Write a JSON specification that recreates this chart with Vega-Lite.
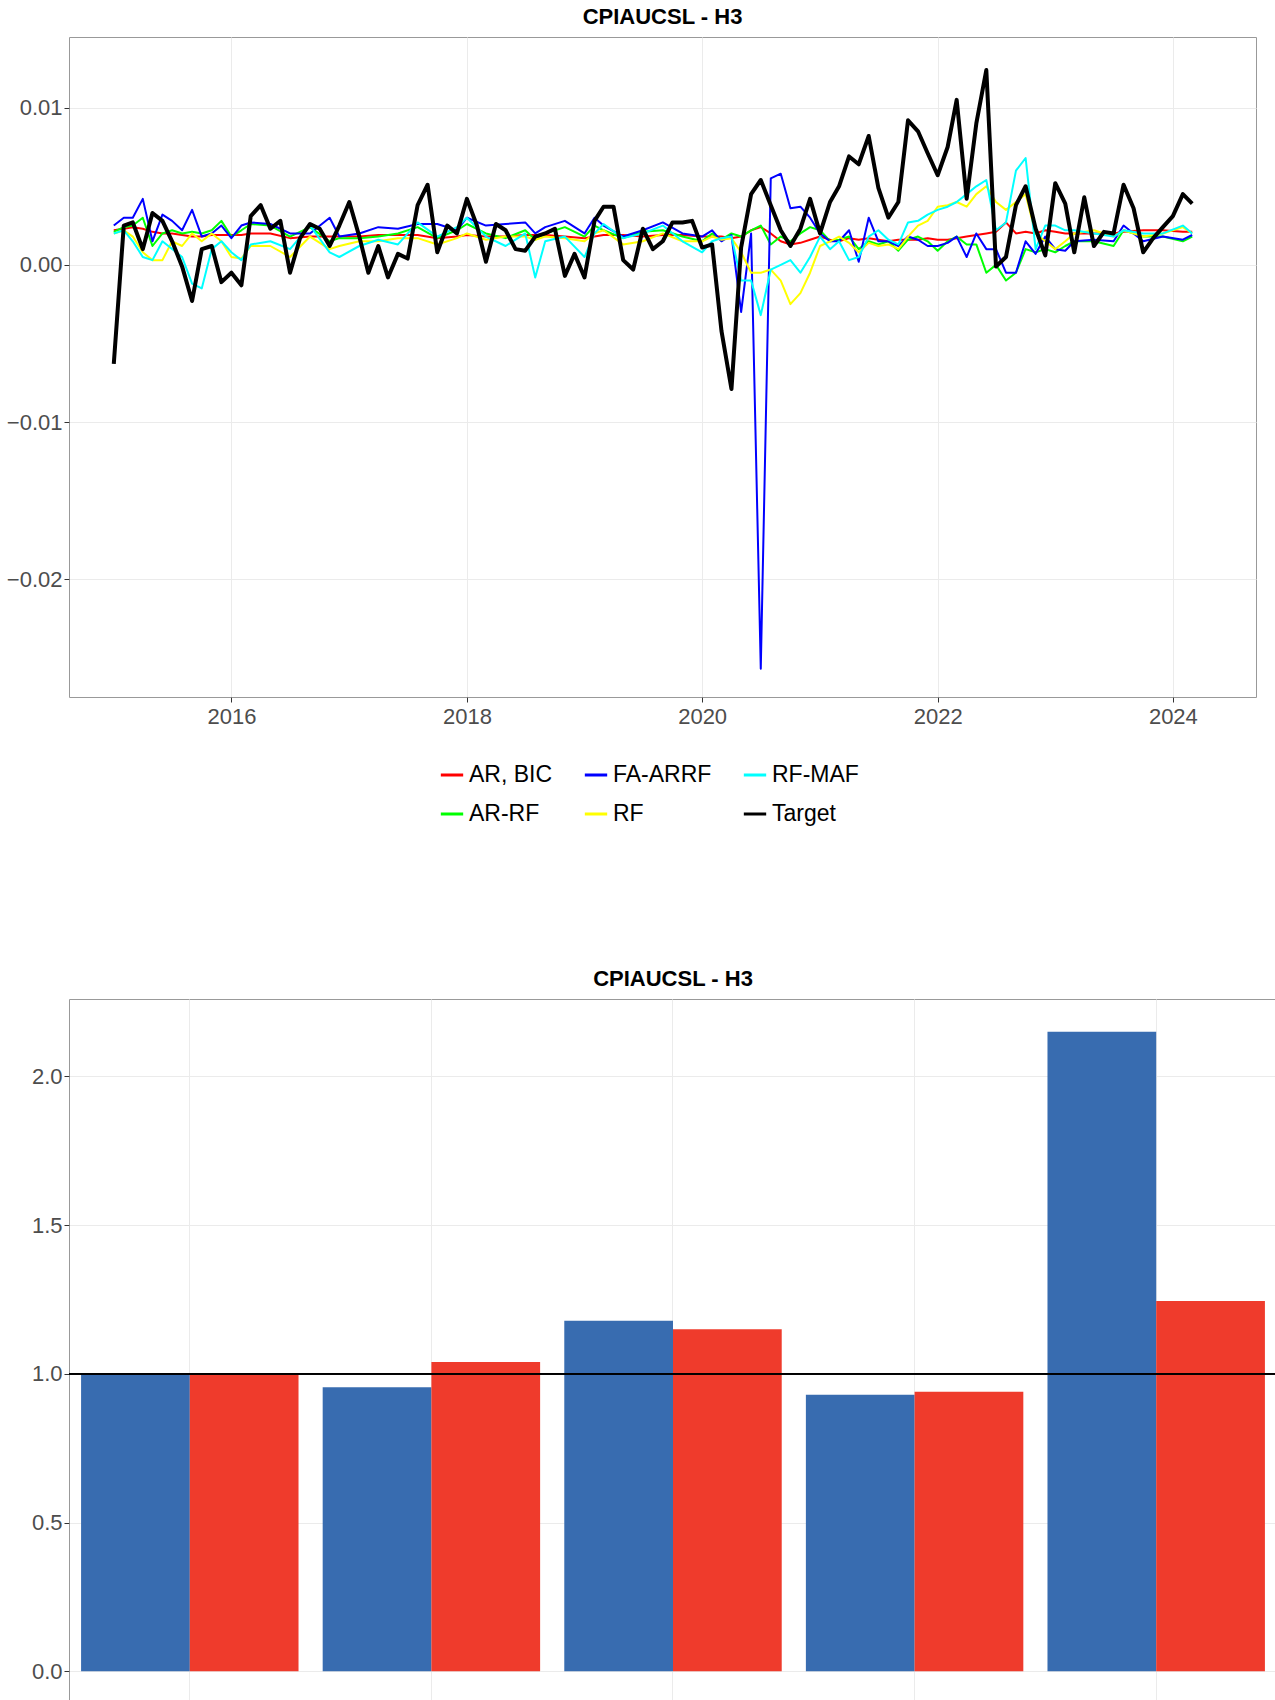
{
  "$schema": "https://vega.github.io/schema/vega-lite/v6.json",
  "background": "white",
  "padding": {"left": 5, "top": 5, "right": 5, "bottom": 5},
  "spacing": 140,
  "resolve": {"scale": {"color": "independent"}, "legend": {"color": "independent"}},
  "config": {
    "font": "Liberation Sans",
    "view": {"stroke": "#999999", "strokeWidth": 1},
    "axis": {"labelFontSize": 22, "labelColor": "#4d4d4d", "gridColor": "#ebebeb", "tickColor": "#333333", "domain": false, "title": null},
    "legend": {"labelFontSize": 23, "labelColor": "#000000"},
    "title": {"fontSize": 22, "fontWeight": "bold", "anchor": "middle", "offset": 8}
  },
  "vconcat": [
    {
      "title": "CPIAUCSL - H3",
      "width": 1187,
      "height": 660,
      "data": {"values": [
        {"date": "2015-01-01", "Target": -0.0063, "AR, BIC": 0.0022, "RF": 0.0020, "AR-RF": 0.0021, "FA-ARRF": 0.0025, "RF-MAF": 0.0020},
        {"date": "2015-02-01", "Target": 0.0025, "AR, BIC": 0.0023, "RF": 0.0022, "AR-RF": 0.0024, "FA-ARRF": 0.0030, "RF-MAF": 0.0022},
        {"date": "2015-03-01", "Target": 0.0027, "AR, BIC": 0.0024, "RF": 0.0018, "AR-RF": 0.0025, "FA-ARRF": 0.0030, "RF-MAF": 0.0015},
        {"date": "2015-04-01", "Target": 0.0010, "AR, BIC": 0.0023, "RF": 0.0008, "AR-RF": 0.0030, "FA-ARRF": 0.0042, "RF-MAF": 0.0005},
        {"date": "2015-05-01", "Target": 0.0033, "AR, BIC": 0.0021, "RF": 0.0003, "AR-RF": 0.0012, "FA-ARRF": 0.0015, "RF-MAF": 0.0003},
        {"date": "2015-06-01", "Target": 0.0028, "AR, BIC": 0.0020, "RF": 0.0003, "AR-RF": 0.0020, "FA-ARRF": 0.0032, "RF-MAF": 0.0015},
        {"date": "2015-07-01", "Target": 0.0015, "AR, BIC": 0.0020, "RF": 0.0015, "AR-RF": 0.0022, "FA-ARRF": 0.0028},
        {"date": "2015-08-01", "Target": -0.0001, "AR, BIC": 0.0019, "RF": 0.0012, "AR-RF": 0.0020, "FA-ARRF": 0.0022, "RF-MAF": 0.0005},
        {"date": "2015-09-01", "Target": -0.0023, "AR, BIC": 0.0018, "RF": 0.0020, "AR-RF": 0.0021, "FA-ARRF": 0.0035, "RF-MAF": -0.0012},
        {"date": "2015-10-01", "Target": 0.0010, "AR, BIC": 0.0018, "RF": 0.0015, "AR-RF": 0.0020, "FA-ARRF": 0.0018, "RF-MAF": -0.0015},
        {"date": "2015-11-01", "Target": 0.0012, "AR, BIC": 0.0019, "RF": 0.0020, "AR-RF": 0.0022, "FA-ARRF": 0.0020, "RF-MAF": 0.0010},
        {"date": "2015-12-01", "Target": -0.0011, "AR, BIC": 0.0019, "RF": 0.0015, "AR-RF": 0.0028, "FA-ARRF": 0.0025, "RF-MAF": 0.0015},
        {"date": "2016-01-01", "Target": -0.0005, "AR, BIC": 0.0019, "RF": 0.0005, "AR-RF": 0.0018, "FA-ARRF": 0.0017, "RF-MAF": 0.0008},
        {"date": "2016-02-01", "Target": -0.0013, "AR, BIC": 0.0019, "RF": 0.0004, "AR-RF": 0.0022, "FA-ARRF": 0.0025, "RF-MAF": 0.0003},
        {"date": "2016-03-01", "Target": 0.0031, "AR, BIC": 0.0020, "RF": 0.0012, "AR-RF": 0.0026, "FA-ARRF": 0.0027, "RF-MAF": 0.0013},
        {"date": "2016-04-01", "Target": 0.0038},
        {"date": "2016-05-01", "Target": 0.0023, "AR, BIC": 0.0020, "RF": 0.0012, "AR-RF": 0.0025, "FA-ARRF": 0.0026, "RF-MAF": 0.0015},
        {"date": "2016-06-01", "Target": 0.0028},
        {"date": "2016-07-01", "Target": -0.0005, "AR, BIC": 0.0017, "RF": 0.0005, "AR-RF": 0.0018, "FA-ARRF": 0.0020, "RF-MAF": 0.0010},
        {"date": "2016-08-01", "Target": 0.0017},
        {"date": "2016-09-01", "Target": 0.0026, "AR, BIC": 0.0018, "RF": 0.0018, "AR-RF": 0.0024, "FA-ARRF": 0.0020, "RF-MAF": 0.0025},
        {"date": "2016-10-01", "Target": 0.0023},
        {"date": "2016-11-01", "Target": 0.0012, "AR, BIC": 0.0018, "RF": 0.0010, "AR-RF": 0.0015, "FA-ARRF": 0.0030, "RF-MAF": 0.0008},
        {"date": "2016-12-01", "Target": 0.0025, "AR, BIC": 0.0018, "RF": 0.0012, "AR-RF": 0.0017, "FA-ARRF": 0.0018, "RF-MAF": 0.0005},
        {"date": "2017-01-01", "Target": 0.0040},
        {"date": "2017-02-01", "Target": 0.0018, "AR, BIC": 0.0018, "RF": 0.0015, "AR-RF": 0.0017, "FA-ARRF": 0.0020, "RF-MAF": 0.0012},
        {"date": "2017-03-01", "Target": -0.0005},
        {"date": "2017-04-01", "Target": 0.0012, "AR, BIC": 0.0019, "RF": 0.0015, "AR-RF": 0.0018, "FA-ARRF": 0.0024, "RF-MAF": 0.0016},
        {"date": "2017-05-01", "Target": -0.0008},
        {"date": "2017-06-01", "Target": 0.0007, "AR, BIC": 0.0019, "RF": 0.0017, "AR-RF": 0.0020, "FA-ARRF": 0.0023, "RF-MAF": 0.0013},
        {"date": "2017-07-01", "Target": 0.0004},
        {"date": "2017-08-01", "Target": 0.0038, "AR, BIC": 0.0019, "RF": 0.0017, "AR-RF": 0.0024, "FA-ARRF": 0.0026, "RF-MAF": 0.0027},
        {"date": "2017-09-01", "Target": 0.0051},
        {"date": "2017-10-01", "Target": 0.0008, "AR, BIC": 0.0017, "RF": 0.0013, "AR-RF": 0.0017, "FA-ARRF": 0.0026, "RF-MAF": 0.0018},
        {"date": "2017-11-01", "Target": 0.0025},
        {"date": "2017-12-01", "Target": 0.0020, "AR, BIC": 0.0018, "RF": 0.0017, "AR-RF": 0.0022, "FA-ARRF": 0.0022, "RF-MAF": 0.0024},
        {"date": "2018-01-01", "Target": 0.0042, "AR, BIC": 0.0019, "RF": 0.0020, "AR-RF": 0.0026, "FA-ARRF": 0.0030, "RF-MAF": 0.0030},
        {"date": "2018-02-01", "Target": 0.0025},
        {"date": "2018-03-01", "Target": 0.0002, "AR, BIC": 0.0018, "RF": 0.0016, "AR-RF": 0.0020, "FA-ARRF": 0.0025, "RF-MAF": 0.0018},
        {"date": "2018-04-01", "Target": 0.0026},
        {"date": "2018-05-01", "Target": 0.0022, "AR, BIC": 0.0018, "RF": 0.0018, "AR-RF": 0.0017, "FA-ARRF": 0.0026, "RF-MAF": 0.0012},
        {"date": "2018-06-01", "Target": 0.0010},
        {"date": "2018-07-01", "Target": 0.0009, "AR, BIC": 0.0019, "RF": 0.0018, "AR-RF": 0.0022, "FA-ARRF": 0.0027, "RF-MAF": 0.0020},
        {"date": "2018-08-01", "Target": 0.0018, "AR, BIC": 0.0019, "RF": 0.0016, "AR-RF": 0.0016, "FA-ARRF": 0.0020, "RF-MAF": -0.0008},
        {"date": "2018-09-01", "Target": 0.0020, "AR, BIC": 0.0019, "RF": 0.0018, "AR-RF": 0.0020, "FA-ARRF": 0.0024, "RF-MAF": 0.0015},
        {"date": "2018-10-01", "Target": 0.0023},
        {"date": "2018-11-01", "Target": -0.0007, "AR, BIC": 0.0018, "RF": 0.0017, "AR-RF": 0.0024, "FA-ARRF": 0.0028, "RF-MAF": 0.0018},
        {"date": "2018-12-01", "Target": 0.0007},
        {"date": "2019-01-01", "Target": -0.0008, "AR, BIC": 0.0017, "RF": 0.0015, "AR-RF": 0.0018, "FA-ARRF": 0.0020, "RF-MAF": 0.0005},
        {"date": "2019-02-01", "Target": 0.0028, "AR, BIC": 0.0018, "RF": 0.0020, "AR-RF": 0.0025, "FA-ARRF": 0.0030, "RF-MAF": 0.0020},
        {"date": "2019-03-01", "Target": 0.0037, "AR, BIC": 0.0019, "RF": 0.0022, "AR-RF": 0.0022, "FA-ARRF": 0.0025, "RF-MAF": 0.0026},
        {"date": "2019-04-01", "Target": 0.0037},
        {"date": "2019-05-01", "Target": 0.0003, "AR, BIC": 0.0019, "RF": 0.0013, "AR-RF": 0.0017, "FA-ARRF": 0.0018, "RF-MAF": 0.0017},
        {"date": "2019-06-01", "Target": -0.0003},
        {"date": "2019-07-01", "Target": 0.0023, "AR, BIC": 0.0018, "RF": 0.0015, "AR-RF": 0.0021, "FA-ARRF": 0.0022, "RF-MAF": 0.0020},
        {"date": "2019-08-01", "Target": 0.0010},
        {"date": "2019-09-01", "Target": 0.0015, "AR, BIC": 0.0019, "RF": 0.0020, "AR-RF": 0.0022, "FA-ARRF": 0.0027, "RF-MAF": 0.0025},
        {"date": "2019-10-01", "Target": 0.0027},
        {"date": "2019-11-01", "Target": 0.0027, "AR, BIC": 0.0019, "RF": 0.0015, "AR-RF": 0.0018, "FA-ARRF": 0.0020, "RF-MAF": 0.0015},
        {"date": "2019-12-01", "Target": 0.0028},
        {"date": "2020-01-01", "Target": 0.0011, "AR, BIC": 0.0018, "RF": 0.0015, "AR-RF": 0.0015, "FA-ARRF": 0.0018, "RF-MAF": 0.0008},
        {"date": "2020-02-01", "Target": 0.0013, "AR, BIC": 0.0018, "RF": 0.0018, "AR-RF": 0.0020, "FA-ARRF": 0.0022, "RF-MAF": 0.0015},
        {"date": "2020-03-01", "Target": -0.0042, "AR, BIC": 0.0018, "RF": 0.0016, "AR-RF": 0.0016, "FA-ARRF": 0.0015, "RF-MAF": 0.0017},
        {"date": "2020-04-01", "Target": -0.0079, "AR, BIC": 0.0017, "RF": 0.0017, "AR-RF": 0.0020, "FA-ARRF": 0.0019, "RF-MAF": 0.0018},
        {"date": "2020-05-01", "Target": 0.0011, "AR, BIC": 0.0018, "RF": 0.0008, "AR-RF": 0.0018, "FA-ARRF": -0.0030, "RF-MAF": -0.0010},
        {"date": "2020-06-01", "Target": 0.0045, "AR, BIC": 0.0022, "RF": -0.0005, "AR-RF": 0.0022, "FA-ARRF": 0.0020, "RF-MAF": -0.0010},
        {"date": "2020-07-01", "Target": 0.0054, "AR, BIC": 0.0024, "RF": -0.0005, "AR-RF": 0.0025, "FA-ARRF": -0.0257, "RF-MAF": -0.0032},
        {"date": "2020-08-01", "Target": 0.0038, "AR, BIC": 0.0020, "RF": -0.0003, "AR-RF": 0.0013, "FA-ARRF": 0.0055, "RF-MAF": -0.0003},
        {"date": "2020-09-01", "Target": 0.0022, "AR, BIC": 0.0015, "RF": -0.0010, "AR-RF": 0.0018, "FA-ARRF": 0.0058, "RF-MAF": 0.0000},
        {"date": "2020-10-01", "Target": 0.0012, "AR, BIC": 0.0013, "RF": -0.0025, "AR-RF": 0.0015, "FA-ARRF": 0.0036, "RF-MAF": 0.0003},
        {"date": "2020-11-01", "Target": 0.0023, "AR, BIC": 0.0014, "RF": -0.0018, "AR-RF": 0.0020, "FA-ARRF": 0.0037, "RF-MAF": -0.0005},
        {"date": "2020-12-01", "Target": 0.0042, "AR, BIC": 0.0016, "RF": -0.0005, "AR-RF": 0.0024, "FA-ARRF": 0.0030, "RF-MAF": 0.0005},
        {"date": "2021-01-01", "Target": 0.0020, "AR, BIC": 0.0018, "RF": 0.0012, "AR-RF": 0.0022, "FA-ARRF": 0.0020, "RF-MAF": 0.0018},
        {"date": "2021-02-01", "Target": 0.0040, "AR, BIC": 0.0016, "RF": 0.0015, "AR-RF": 0.0015, "FA-ARRF": 0.0015, "RF-MAF": 0.0010},
        {"date": "2021-03-01", "Target": 0.0050, "AR, BIC": 0.0015, "RF": 0.0018, "AR-RF": 0.0016, "FA-ARRF": 0.0015, "RF-MAF": 0.0015},
        {"date": "2021-04-01", "Target": 0.0069, "AR, BIC": 0.0017, "RF": 0.0014, "AR-RF": 0.0018, "FA-ARRF": 0.0022, "RF-MAF": 0.0003},
        {"date": "2021-05-01", "Target": 0.0064, "AR, BIC": 0.0016, "RF": 0.0008, "AR-RF": 0.0010, "FA-ARRF": 0.0002, "RF-MAF": 0.0005},
        {"date": "2021-06-01", "Target": 0.0082, "AR, BIC": 0.0017, "RF": 0.0014, "AR-RF": 0.0015, "FA-ARRF": 0.0030, "RF-MAF": 0.0018},
        {"date": "2021-07-01", "Target": 0.0049, "AR, BIC": 0.0016, "RF": 0.0012, "AR-RF": 0.0013, "FA-ARRF": 0.0015, "RF-MAF": 0.0022},
        {"date": "2021-08-01", "Target": 0.0030, "AR, BIC": 0.0015, "RF": 0.0013, "AR-RF": 0.0015, "FA-ARRF": 0.0015, "RF-MAF": 0.0016},
        {"date": "2021-09-01", "Target": 0.0040, "AR, BIC": 0.0016, "RF": 0.0010, "AR-RF": 0.0009, "FA-ARRF": 0.0012, "RF-MAF": 0.0013},
        {"date": "2021-10-01", "Target": 0.0092, "AR, BIC": 0.0016, "RF": 0.0018, "AR-RF": 0.0016, "FA-ARRF": 0.0018, "RF-MAF": 0.0027},
        {"date": "2021-11-01", "Target": 0.0085, "AR, BIC": 0.0016, "RF": 0.0025, "AR-RF": 0.0018, "FA-ARRF": 0.0016, "RF-MAF": 0.0028},
        {"date": "2021-12-01", "Target": 0.0071, "AR, BIC": 0.0017, "RF": 0.0028, "AR-RF": 0.0015, "FA-ARRF": 0.0012, "RF-MAF": 0.0032},
        {"date": "2022-01-01", "Target": 0.0057, "AR, BIC": 0.0016, "RF": 0.0037, "AR-RF": 0.0009, "FA-ARRF": 0.0012, "RF-MAF": 0.0035},
        {"date": "2022-02-01", "Target": 0.0075, "AR, BIC": 0.0016, "RF": 0.0038, "AR-RF": 0.0015, "FA-ARRF": 0.0014, "RF-MAF": 0.0037},
        {"date": "2022-03-01", "Target": 0.0105, "AR, BIC": 0.0017, "RF": 0.0040, "AR-RF": 0.0018, "FA-ARRF": 0.0018, "RF-MAF": 0.0040},
        {"date": "2022-04-01", "Target": 0.0042, "AR, BIC": 0.0018, "RF": 0.0037, "AR-RF": 0.0013, "FA-ARRF": 0.0005, "RF-MAF": 0.0045},
        {"date": "2022-05-01", "Target": 0.0090, "AR, BIC": 0.0019, "RF": 0.0045, "AR-RF": 0.0013, "FA-ARRF": 0.0020, "RF-MAF": 0.0050},
        {"date": "2022-06-01", "Target": 0.0124, "AR, BIC": 0.0020, "RF": 0.0050, "AR-RF": -0.0005, "FA-ARRF": 0.0010, "RF-MAF": 0.0054},
        {"date": "2022-07-01", "Target": -0.0001, "AR, BIC": 0.0021, "RF": 0.0040, "AR-RF": 0.0000, "FA-ARRF": 0.0010, "RF-MAF": 0.0022},
        {"date": "2022-08-01", "Target": 0.0005, "AR, BIC": 0.0027, "RF": 0.0035, "AR-RF": -0.0010, "FA-ARRF": -0.0005, "RF-MAF": 0.0027},
        {"date": "2022-09-01", "Target": 0.0038, "AR, BIC": 0.0020, "RF": 0.0040, "AR-RF": -0.0005, "FA-ARRF": -0.0005, "RF-MAF": 0.0060},
        {"date": "2022-10-01", "Target": 0.0050, "AR, BIC": 0.0021, "RF": 0.0045, "AR-RF": 0.0010, "FA-ARRF": 0.0015, "RF-MAF": 0.0068},
        {"date": "2022-11-01", "Target": 0.0023, "AR, BIC": 0.0020, "RF": 0.0020, "AR-RF": 0.0008, "FA-ARRF": 0.0007, "RF-MAF": 0.0010},
        {"date": "2022-12-01", "Target": 0.0006, "AR, BIC": 0.0022, "RF": 0.0015, "AR-RF": 0.0010, "FA-ARRF": 0.0018, "RF-MAF": 0.0025},
        {"date": "2023-01-01", "Target": 0.0052, "AR, BIC": 0.0021, "RF": 0.0010, "AR-RF": 0.0008, "FA-ARRF": 0.0010, "RF-MAF": 0.0025},
        {"date": "2023-02-01", "Target": 0.0039, "AR, BIC": 0.0020, "RF": 0.0015, "AR-RF": 0.0012, "FA-ARRF": 0.0009, "RF-MAF": 0.0022},
        {"date": "2023-03-01", "Target": 0.0008, "AR, BIC": 0.0020, "RF": 0.0020, "AR-RF": 0.0015, "FA-ARRF": 0.0015, "RF-MAF": 0.0022},
        {"date": "2023-04-01", "Target": 0.0043},
        {"date": "2023-05-01", "Target": 0.0012, "AR, BIC": 0.0020, "RF": 0.0022, "AR-RF": 0.0015, "FA-ARRF": 0.0016, "RF-MAF": 0.0020},
        {"date": "2023-06-01", "Target": 0.0021},
        {"date": "2023-07-01", "Target": 0.0020, "AR, BIC": 0.0020, "RF": 0.0018, "AR-RF": 0.0012, "FA-ARRF": 0.0015, "RF-MAF": 0.0018},
        {"date": "2023-08-01", "Target": 0.0051, "AR, BIC": 0.0021, "RF": 0.0022, "AR-RF": 0.0022, "FA-ARRF": 0.0025, "RF-MAF": 0.0022},
        {"date": "2023-09-01", "Target": 0.0036},
        {"date": "2023-10-01", "Target": 0.0008, "AR, BIC": 0.0022, "RF": 0.0018, "AR-RF": 0.0018, "FA-ARRF": 0.0015, "RF-MAF": 0.0020},
        {"date": "2023-11-01", "Target": 0.0017},
        {"date": "2023-12-01", "Target": 0.0024, "AR, BIC": 0.0022, "RF": 0.0020, "AR-RF": 0.0018, "FA-ARRF": 0.0018, "RF-MAF": 0.0020},
        {"date": "2024-01-01", "Target": 0.0031},
        {"date": "2024-02-01", "Target": 0.0045, "AR, BIC": 0.0021, "RF": 0.0024, "AR-RF": 0.0015, "FA-ARRF": 0.0016, "RF-MAF": 0.0025},
        {"date": "2024-03-01", "Target": 0.0039, "AR, BIC": 0.0021, "RF": 0.0020, "AR-RF": 0.0018, "FA-ARRF": 0.0019, "RF-MAF": 0.0020}
      ]},
      "transform": [
        {"fold": ["AR, BIC", "AR-RF", "FA-ARRF", "RF", "RF-MAF", "Target"], "as": ["series", "value"]},
        {"filter": "isValid(datum.value)"}
      ],
      "mark": {"type": "line", "strokeJoin": "round"},
      "encoding": {
        "x": {"field": "date", "type": "temporal",
          "scale": {"domain": ["2014-08-15", "2024-09-15"]},
          "axis": {"values": ["2016-01-01", "2018-01-01", "2020-01-01", "2022-01-01", "2024-01-01"], "format": "%Y", "labelPadding": 4}},
        "y": {"field": "value", "type": "quantitative",
          "scale": {"domain": [-0.0275, 0.0145], "nice": false, "zero": false},
          "axis": {"values": [-0.02, -0.01, 0, 0.01], "format": ".2f"}},
        "color": {"field": "series", "type": "nominal",
          "scale": {"domain": ["AR, BIC", "AR-RF", "FA-ARRF", "RF", "RF-MAF", "Target"], "range": ["#ff0000", "#00ff00", "#0000ff", "#ffff00", "#00ffff", "#000000"]},
          "legend": {"orient": "none", "legendX": 370, "legendY": 725, "title": null, "columns": 3, "symbolType": "stroke", "symbolStrokeWidth": 3, "symbolSize": 500, "columnPadding": 25, "rowPadding": 14}},
        "strokeWidth": {"condition": {"test": "datum.series === 'Target'", "value": 4}, "value": 2},
        "order": {"field": "date", "type": "temporal"}
      }
    },
    {
      "title": "CPIAUCSL - H3",
      "width": 1208,
      "height": 705,
      "data": {"values": [
        {"model": "AR, BIC", "sample": "All Sample", "ratio": 1.0},
        {"model": "AR, BIC", "sample": "Until 2019", "ratio": 1.0},
        {"model": "RF", "sample": "All Sample", "ratio": 0.955},
        {"model": "RF", "sample": "Until 2019", "ratio": 1.04},
        {"model": "AR-RF", "sample": "All Sample", "ratio": 1.178},
        {"model": "AR-RF", "sample": "Until 2019", "ratio": 1.15},
        {"model": "RF-MAF", "sample": "All Sample", "ratio": 0.93},
        {"model": "RF-MAF", "sample": "Until 2019", "ratio": 0.94},
        {"model": "FA-ARRF", "sample": "All Sample", "ratio": 2.15},
        {"model": "FA-ARRF", "sample": "Until 2019", "ratio": 1.245}
      ]},
      "layer": [
        {
          "mark": {"type": "bar"},
          "encoding": {
            "x": {"field": "model", "type": "nominal", "sort": ["AR, BIC", "RF", "AR-RF", "RF-MAF", "FA-ARRF"],
              "scale": {"paddingInner": 0.1, "paddingOuter": 0.05},
              "axis": {"labelAngle": 0, "grid": true, "labelPadding": 6}},
            "xOffset": {"field": "sample", "type": "nominal", "scale": {"paddingInner": 0, "paddingOuter": 0}},
            "y": {"field": "ratio", "type": "quantitative",
              "scale": {"domain": [-0.11, 2.26], "nice": false},
              "axis": {"values": [0, 0.5, 1, 1.5, 2], "format": ".1f"}},
            "color": {"field": "sample", "type": "nominal",
              "scale": {"domain": ["All Sample", "Until 2019"], "range": ["#386cb0", "#ef3b2c"]},
              "legend": {"orient": "none", "legendX": 430, "legendY": 755, "title": null, "direction": "horizontal", "symbolType": "square", "symbolSize": 1600, "symbolStrokeWidth": 0, "columnPadding": 4}}
          }
        },
        {
          "mark": {"type": "rule", "color": "#000000", "strokeWidth": 1},
          "encoding": {"y": {"datum": 1}}
        }
      ]
    }
  ]
}
